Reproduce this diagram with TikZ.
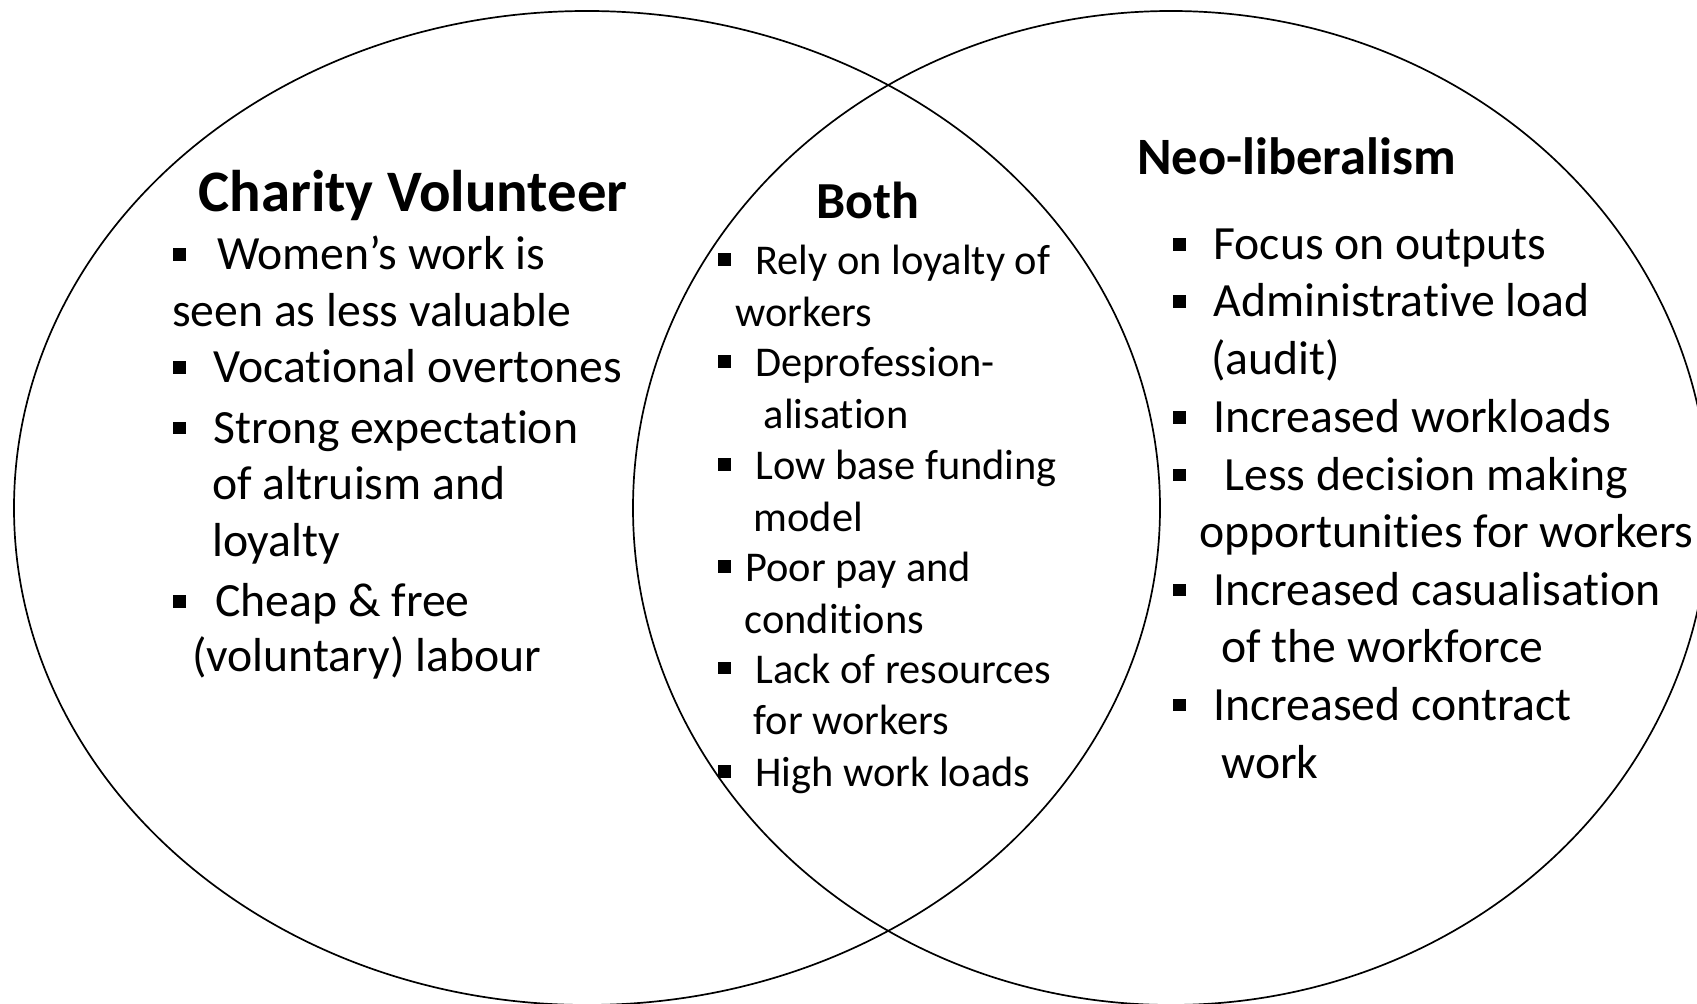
\documentclass[tikz,border=0pt]{standalone}
\usepackage{fontspec}
\setmainfont{Carlito}[RawFeature={-liga;-clig;-calt;-dlig}]
\tikzset{
  venn/.style={line width=0.85pt},
  txt/.style={anchor=base west, inner sep=0pt, font=\fontsize{23.85}{28.8}\selectfont},
  bothtxt/.style={anchor=base west, inner sep=0pt, font=\fontsize{21.2}{25.6}\selectfont},
  ttl/.style={anchor=base west, inner sep=0pt, font=\fontsize{#1}{#1}\selectfont\bfseries},
}
% keeps t and i apart (no ligature)
\newcommand{\nolig}{\kern0pt\relax}
\newcommand{\sq}[2]{\fill (#1,#2-21.5) rectangle ++(13,12.5);}
\begin{document}
\begin{tikzpicture}[x=0.5pt,y=-0.5pt]
    \useasboundingbox (0,0) rectangle (1697,1004);
    \clip (0,0) rectangle (1697,1004);
    \draw[venn] (587,508) ellipse (573 and 497);
    \draw[venn] (1171,508) ellipse (538 and 497);

    % charity volunteer
    \node[ttl=29.4] (cvtitle) at (198,212) {Charity Volunteer};
    \node[txt] (cv1) at (216.7,270)   {Women’s work is};
    \node[txt] (cv2) at (171.7,326.7) {seen as less valuable};
    \node[txt] (cv3) at (213,383)     {Vocat\nolig ional overtones};
    \node[txt] (cv4) at (213,443.3)   {Strong expectat\nolig ion};
    \node[txt] (cv5) at (211.7,500)   {of altruism and};
    \node[txt] (cv6) at (211.7,556.7) {loyalty};
    \node[txt] (cv7) at (215,616.7)   {Cheap \& free};
    \node[txt] (cv8) at (191.7,672)   {(voluntary) labour};
    \sq{173}{270} \sq{173}{383} \sq{173}{443.3} \sq{173}{616.7}

    % both
    \node[ttl=26] (bothtitle) at (816,219) {Both};
    \node[bothtxt] (b1)  at (755,275)     {Rely on loyalty of};
    \node[bothtxt] (b2)  at (735,326.7)   {workers};
    \node[bothtxt] (b3)  at (755,376.7)   {Deprofession-};
    \node[bothtxt] (b4)  at (763.3,428.3) {alisat\nolig ion};
    \node[bothtxt] (b5)  at (755,480)     {Low base funding};
    \node[bothtxt] (b6)  at (753.3,531.7) {model};
    \node[bothtxt] (b7)  at (745,581.7)   {Poor pay and};
    \node[bothtxt] (b8)  at (744.3,633.3) {condit\nolig ions};
    \node[bothtxt] (b9)  at (755,683.3)   {Lack of resources};
    \node[bothtxt] (b10) at (753.3,735)   {for workers};
    \node[bothtxt] (b11) at (755,786.7)   {High work loads};
    \sq{718}{275} \sq{718}{376.7} \sq{718}{480} \sq{718}{581.7} \sq{718}{683.3} \sq{718}{786.7}

    % neo-liberalism
    \node[ttl=26.25] (neotitle) at (1136.7,175) {Neo-liberalism};
    \node[txt] (n1)  at (1213,260)   {Focus on outputs};
    \node[txt] (n2)  at (1213,316.7) {Administrat\nolig ive load};
    \node[txt] (n3)  at (1210.7,375) {(audit)};
    \node[txt] (n4)  at (1213,433)   {Increased workloads};
    \node[txt] (n5)  at (1224,490.5) {Less decision making};
    \node[txt] (n6)  at (1199,548)   {opportunit\nolig ies for workers};
    \node[txt] (n7)  at (1213,605.5) {Increased casualisat\nolig ion};
    \node[txt] (n8)  at (1221,663)   {of the workforce};
    \node[txt] (n9)  at (1213,720.5) {Increased contract};
    \node[txt] (n10) at (1221,778)   {work};
    \sq{1173}{260} \sq{1173}{316.7} \sq{1173}{433} \sq{1173}{490.5} \sq{1173}{605.5} \sq{1173}{720.5}
\end{tikzpicture}
\end{document}
